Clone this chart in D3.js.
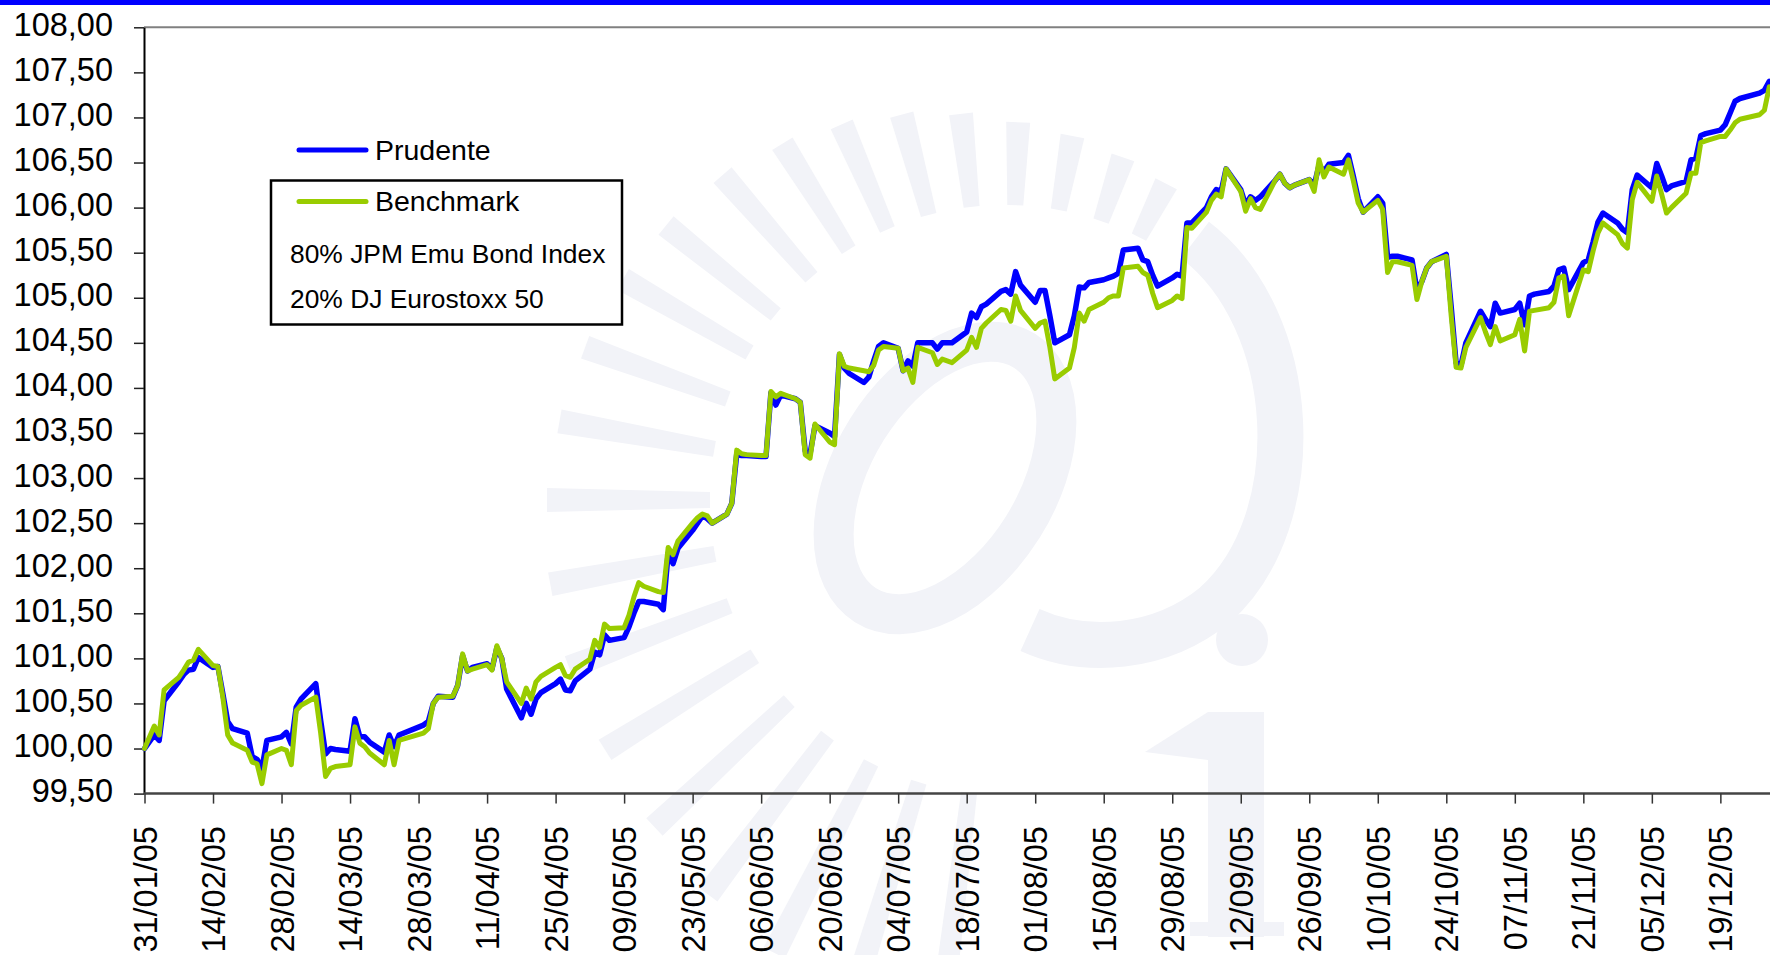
<!DOCTYPE html>
<html>
<head>
<meta charset="utf-8">
<script src="https://cdn.jsdelivr.net/npm/d3@7/dist/d3.min.js"></script>
<style>
  html, body { margin: 0; padding: 0; background: #ffffff; }
  svg { display: block; }
</style>
</head>
<body>
<svg id="chart" width="1770" height="955"></svg>
<script>
// ---------------- DATA ----------------
const seriesNames = ["Prudente", "Benchmark"];
const benchmarkNotes = ["80% JPM Emu Bond Index", "20% DJ Eurostoxx 50"];

const dates = [
  "31/01/05","02/02/05","03/02/05","04/02/05","07/02/05","08/02/05","09/02/05","10/02/05","11/02/05",
  "14/02/05","15/02/05","16/02/05","17/02/05","18/02/05","21/02/05","22/02/05","23/02/05","24/02/05","25/02/05",
  "28/02/05","01/03/05","02/03/05","03/03/05","04/03/05","07/03/05","08/03/05","09/03/05","10/03/05","11/03/05",
  "14/03/05","15/03/05","16/03/05","17/03/05","18/03/05","21/03/05","22/03/05","23/03/05","24/03/05",
  "29/03/05","30/03/05","31/03/05","01/04/05","04/04/05","05/04/05","06/04/05","07/04/05","08/04/05",
  "11/04/05","12/04/05","13/04/05","14/04/05","15/04/05","18/04/05","19/04/05","20/04/05","21/04/05","22/04/05",
  "25/04/05","26/04/05","27/04/05","28/04/05","29/04/05","02/05/05","03/05/05","04/05/05","05/05/05","06/05/05",
  "09/05/05","10/05/05","11/05/05","12/05/05","13/05/05","16/05/05","17/05/05","18/05/05","19/05/05","20/05/05",
  "23/05/05","24/05/05","25/05/05","26/05/05","27/05/05","30/05/05","31/05/05","01/06/05","02/06/05","03/06/05",
  "06/06/05","07/06/05","08/06/05","09/06/05","10/06/05","13/06/05","14/06/05","15/06/05","16/06/05","17/06/05",
  "20/06/05","21/06/05","22/06/05","23/06/05","24/06/05","27/06/05","28/06/05","29/06/05","30/06/05","01/07/05",
  "04/07/05","05/07/05","06/07/05","07/07/05","08/07/05","11/07/05","12/07/05","13/07/05","14/07/05","15/07/05",
  "18/07/05","19/07/05","20/07/05","21/07/05","22/07/05","25/07/05","26/07/05","27/07/05","28/07/05","29/07/05",
  "01/08/05","02/08/05","03/08/05","04/08/05","05/08/05","08/08/05","09/08/05","10/08/05","11/08/05","12/08/05",
  "15/08/05","16/08/05","17/08/05","18/08/05","19/08/05","22/08/05","23/08/05","24/08/05","25/08/05","26/08/05",
  "29/08/05","30/08/05","31/08/05","01/09/05","02/09/05","05/09/05","06/09/05","07/09/05","08/09/05","09/09/05",
  "12/09/05","13/09/05","14/09/05","15/09/05","16/09/05","19/09/05","20/09/05","21/09/05","22/09/05","23/09/05",
  "26/09/05","27/09/05","28/09/05","29/09/05","30/09/05","03/10/05","04/10/05","05/10/05","06/10/05","07/10/05",
  "10/10/05","11/10/05","12/10/05","13/10/05","14/10/05","17/10/05","18/10/05","19/10/05","20/10/05","21/10/05",
  "24/10/05","25/10/05","26/10/05","27/10/05","28/10/05","31/10/05","01/11/05","02/11/05","03/11/05","04/11/05",
  "07/11/05","08/11/05","09/11/05","10/11/05","11/11/05","14/11/05","15/11/05","16/11/05","17/11/05","18/11/05",
  "21/11/05","22/11/05","23/11/05","24/11/05","25/11/05","28/11/05","29/11/05","30/11/05","01/12/05","02/12/05",
  "05/12/05","06/12/05","07/12/05","08/12/05","09/12/05","12/12/05","13/12/05","14/12/05","15/12/05","16/12/05",
  "19/12/05","20/12/05","21/12/05","22/12/05","23/12/05","27/12/05","28/12/05","29/12/05"
];

const prudente = [
  100.00,100.15,100.09,100.53,100.74,100.82,100.87,100.88,101.01,
  100.90,100.91,100.61,100.30,100.22,100.17,99.91,99.88,99.78,100.09,
  100.13,100.18,100.05,100.46,100.55,100.72,100.31,99.94,100.00,99.99,
  99.97,100.33,100.13,100.13,100.07,99.96,100.15,100.02,100.15,
  100.26,100.30,100.50,100.58,100.57,100.70,101.03,100.86,100.90,
  100.94,100.88,101.12,101.00,100.66,100.34,100.50,100.38,100.55,100.62,
  100.72,100.77,100.65,100.64,100.75,100.88,101.07,101.04,101.26,101.20,
  101.23,101.35,101.50,101.63,101.63,101.60,101.54,102.17,102.05,102.22,
  102.42,102.50,102.58,102.55,102.50,102.60,102.72,103.26,103.25,103.25,
  103.24,103.24,103.95,103.81,103.92,103.88,103.84,103.30,103.27,103.58,
  103.50,103.46,104.37,104.22,104.16,104.06,104.12,104.30,104.46,104.50,
  104.44,104.19,104.30,104.24,104.50,104.50,104.43,104.50,104.50,104.50,
  104.62,104.83,104.78,104.90,104.93,105.07,105.09,105.04,105.29,105.14,
  104.95,105.08,105.08,104.80,104.50,104.59,104.80,105.12,105.11,105.17,
  105.20,105.22,105.24,105.27,105.53,105.55,105.42,105.40,105.25,105.13,
  105.22,105.26,105.24,105.83,105.83,106.00,106.12,106.20,106.18,106.43,
  106.20,106.03,106.12,106.08,106.12,106.30,106.37,106.27,106.22,106.25,
  106.31,106.25,106.47,106.40,106.48,106.50,106.58,106.35,106.10,105.95,
  106.12,106.05,105.45,105.46,105.46,105.42,105.08,105.18,105.33,105.40,
  105.48,104.90,104.28,104.25,104.50,104.85,104.76,104.68,104.94,104.83,
  104.87,104.94,104.70,105.02,105.04,105.07,105.13,105.31,105.33,105.09,
  105.39,105.42,105.62,105.84,105.94,105.83,105.76,105.72,106.20,106.36,
  106.22,106.49,106.35,106.20,106.24,106.29,106.53,106.55,106.80,106.82,
  106.86,106.92,107.05,107.18,107.21,107.27,107.30,107.40
];

const benchmark = [
  100.00,100.25,100.15,100.65,100.79,100.87,100.96,100.98,101.10,
  100.92,100.91,100.57,100.15,100.06,99.98,99.85,99.83,99.61,99.93,
  100.00,99.98,99.82,100.42,100.48,100.57,100.17,99.69,99.78,99.80,
  99.82,100.24,100.06,100.02,99.95,99.82,100.09,99.82,100.09,
  100.17,100.22,100.50,100.57,100.58,100.70,101.05,100.86,100.88,
  100.93,100.87,101.14,101.00,100.74,100.50,100.67,100.55,100.74,100.80,
  100.90,100.93,100.81,100.79,100.88,100.99,101.20,101.12,101.38,101.33,
  101.34,101.48,101.68,101.84,101.80,101.74,101.73,102.23,102.15,102.30,
  102.50,102.56,102.60,102.58,102.50,102.60,102.72,103.31,103.27,103.26,
  103.25,103.25,103.96,103.90,103.94,103.88,103.84,103.26,103.22,103.60,
  103.40,103.37,104.38,104.24,104.22,104.19,104.18,104.25,104.42,104.46,
  104.44,104.19,104.22,104.06,104.45,104.39,104.26,104.32,104.30,104.28,
  104.42,104.56,104.45,104.66,104.72,104.87,104.86,104.74,105.02,104.86,
  104.66,104.72,104.74,104.45,104.10,104.22,104.45,104.83,104.74,104.87,
  104.95,105.00,105.02,105.02,105.33,105.35,105.28,105.25,105.05,104.89,
  104.97,105.02,104.99,105.78,105.77,105.95,106.08,106.15,106.12,106.43,
  106.18,105.96,106.10,106.00,105.98,106.30,106.37,106.27,106.22,106.25,
  106.31,106.18,106.53,106.34,106.45,106.37,106.53,106.30,106.05,105.95,
  106.08,105.98,105.28,105.40,105.40,105.36,104.98,105.18,105.33,105.40,
  105.46,104.80,104.23,104.22,104.45,104.78,104.62,104.48,104.68,104.52,
  104.59,104.76,104.41,104.85,104.86,104.89,104.95,105.22,105.24,104.80,
  105.31,105.29,105.52,105.72,105.83,105.70,105.60,105.55,106.09,106.28,
  106.07,106.35,106.15,105.94,106.00,106.16,106.38,106.38,106.72,106.74,
  106.79,106.79,106.86,106.94,106.98,107.03,107.08,107.34
];

const xTickLabels = [
  "31/01/05","14/02/05","28/02/05","14/03/05","28/03/05","11/04/05","25/04/05","09/05/05",
  "23/05/05","06/06/05","20/06/05","04/07/05","18/07/05","01/08/05","15/08/05","29/08/05",
  "12/09/05","26/09/05","10/10/05","24/10/05","07/11/05","21/11/05","05/12/05","19/12/05"
];
const yTickValues = [99.5,100,100.5,101,101.5,102,102.5,103,103.5,104,104.5,105,105.5,106,106.5,107,107.5,108];

// ---------------- CHART ----------------
const W = 1770, H = 955;
const FONT = "'Liberation Sans', Arial, Helvetica, sans-serif";
const svg = d3.select("#chart");
const parse = d3.utcParse("%d/%m/%y");

const plotLeft = 144, plotTop = 27.3, plotBottom = 793.6;

const x = d3.scaleUtc()
  .domain([parse("31/01/05"), parse("29/12/05")])
  .range([144.5, 1769.3]);
const y = d3.scaleLinear()
  .domain([99.5, 108])
  .range([plotBottom, plotTop]);

svg.append("rect").attr("width", W).attr("height", H).attr("fill", "#ffffff");

// ---- faint logo watermark ----
const wm = svg.append("g").attr("fill", "#f2f3f8").attr("stroke", "none");
const cx = 1005, cy = 500;
const rayAngles = [97,107,117,127,137,148,159,169.5,180,190,200,210,219,229,238,246.5,255,263.5,272,280.5,289,297];
const outerR = d3.scaleLinear().domain([95,140,180,230,272,297]).range([540,475,458,430,378,355]);
rayAngles.forEach(a => {
  const t = a * Math.PI / 180;
  const ux = Math.cos(t), uy = Math.sin(t), px = -uy, py = ux;
  const r0 = 295, r1 = outerR(a), w0 = 8, w1 = 12;
  const pts = [
    [cx + ux*r0 + px*w0, cy + uy*r0 + py*w0],
    [cx + ux*r1 + px*w1, cy + uy*r1 + py*w1],
    [cx + ux*r1 - px*w1, cy + uy*r1 - py*w1],
    [cx + ux*r0 - px*w0, cy + uy*r0 - py*w0]
  ];
  wm.append("polygon").attr("points", pts.map(p => p.join(",")).join(" "));
});
// alpha-like letter
wm.append("ellipse")
  .attr("cx", 945).attr("cy", 478).attr("rx", 92).attr("ry", 150)
  .attr("transform", "rotate(32,945,478)")
  .attr("fill", "none").attr("stroke", "#f2f3f8").attr("stroke-width", 40);
wm.append("path")
  .attr("d", "M1195,240 C1300,320 1310,520 1215,605 C1160,650 1085,655 1030,630")
  .attr("fill", "none").attr("stroke", "#f2f3f8").attr("stroke-width", 46);
// "i"
wm.append("circle").attr("cx", 1242).attr("cy", 640).attr("r", 26);
wm.append("rect").attr("x", 1208).attr("y", 712).attr("width", 56).attr("height", 225);
wm.append("polygon").attr("points", "1145,752 1208,712 1208,760");
wm.append("rect").attr("x", 1190).attr("y", 922).attr("width", 94).attr("height", 14);

// top blue band
svg.append("rect").attr("x", 0).attr("y", 0).attr("width", W).attr("height", 5).attr("fill", "#0000ff");

// top border of the plot area
svg.append("line")
  .attr("x1", plotLeft).attr("x2", W).attr("y1", plotTop).attr("y2", plotTop)
  .attr("stroke", "#808080").attr("stroke-width", 2);

// ---- Y axis ----
const fmtY = d => d3.format(".2f")(d).replace(".", ",");
const yAxis = svg.append("g")
  .attr("transform", `translate(${plotLeft},0)`)
  .call(d3.axisLeft(y).tickValues(yTickValues).tickSize(10).tickSizeOuter(0).tickFormat(fmtY));
yAxis.select(".domain").attr("stroke", "#000").attr("stroke-width", 2);
yAxis.selectAll(".tick line").attr("stroke", "#222").attr("stroke-width", 1.5);
yAxis.selectAll(".tick text")
  .attr("x", -31).attr("dy", "8px")
  .attr("font-family", FONT).attr("font-size", "32.5px").attr("fill", "#000");

// ---- X axis ----
const xAxis = svg.append("g")
  .attr("transform", `translate(0,${plotBottom})`)
  .call(d3.axisBottom(x).tickValues(xTickLabels.map(parse)).tickSize(10).tickSizeOuter(0)
    .tickFormat(d3.utcFormat("%d/%m/%y")));
xAxis.select(".domain").attr("d", `M${plotLeft},0H${W}`).attr("stroke", "#444").attr("stroke-width", 2.5);
xAxis.selectAll(".tick line").attr("stroke", "#333").attr("stroke-width", 1.5);
xAxis.selectAll(".tick text")
  .attr("transform", "rotate(-90)")
  .attr("text-anchor", "end")
  .attr("x", -32.5).attr("y", 11.5).attr("dy", 0)
  .attr("font-family", FONT).attr("font-size", "32.5px").attr("fill", "#000");

// ---- Lines ----
const rows = dates.map((d, i) => ({ date: parse(d), p: prudente[i], b: benchmark[i] }));
const lineP = d3.line().x(d => x(d.date)).y(d => y(d.p));
const lineB = d3.line().x(d => x(d.date)).y(d => y(d.b));

svg.append("path").datum(rows).attr("d", lineP)
  .attr("fill", "none").attr("stroke", "#0000ff").attr("stroke-width", 5.5)
  .attr("stroke-linejoin", "round").attr("stroke-linecap", "round");
svg.append("path").datum(rows).attr("d", lineB)
  .attr("fill", "none").attr("stroke", "#99cc00").attr("stroke-width", 5)
  .attr("stroke-linejoin", "round").attr("stroke-linecap", "round");

// ---- Legend ----
const lg = svg.append("g");
lg.append("rect")
  .attr("x", 271).attr("y", 180.5).attr("width", 351).attr("height", 144)
  .attr("fill", "#ffffff").attr("stroke", "#000").attr("stroke-width", 2.5);
const legendItems = [
  { name: seriesNames[0], color: "#0000ff", ly: 150, ty: 159.5 },
  { name: seriesNames[1], color: "#99cc00", ly: 201.5, ty: 211 }
];
legendItems.forEach(it => {
  lg.append("line").attr("x1", 299).attr("x2", 366).attr("y1", it.ly).attr("y2", it.ly)
    .attr("stroke", it.color).attr("stroke-width", 5).attr("stroke-linecap", "round");
  lg.append("text").attr("x", 375).attr("y", it.ty).text(it.name)
    .attr("font-family", FONT).attr("font-size", "28.5px").attr("fill", "#000");
});
benchmarkNotes.forEach((t, i) => {
  lg.append("text").attr("x", 290).attr("y", 262.5 + i * 45).text(t)
    .attr("font-family", FONT).attr("font-size", "26.4px").attr("fill", "#000");
});
</script>
</body>
</html>
